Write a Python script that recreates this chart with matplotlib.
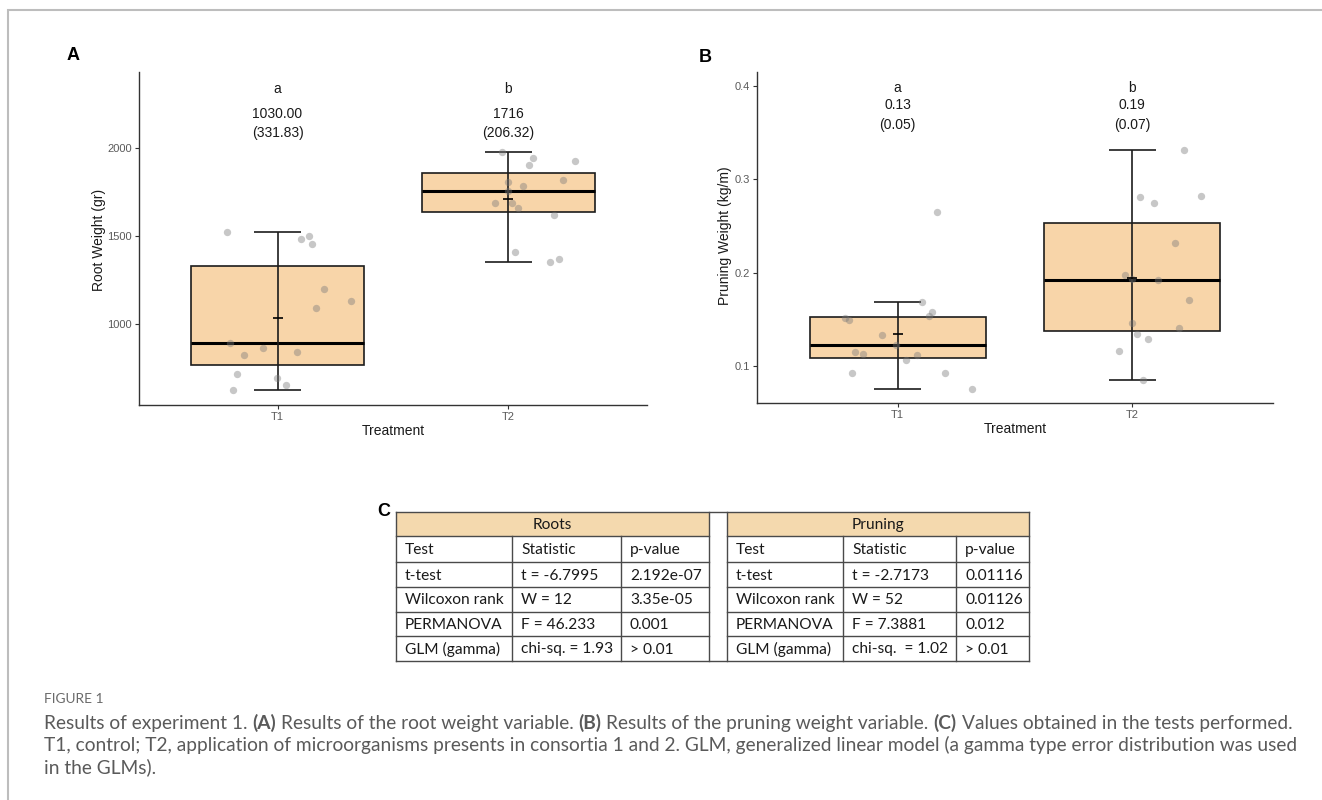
import numpy as np
import matplotlib
matplotlib.use("Agg")
import matplotlib.pyplot as plt
from matplotlib import cbook
from matplotlib.patches import Rectangle

W, H = 1322, 800

groups = ["T1", "T2"]

# root weight (gr), values
root_t1 = [1523, 1483, 1502, 1455, 1200, 1091, 1131, 894, 824, 862, 843, 714, 695, 655, 625]
root_t1_dx = [-0.221, 0.103, 0.138, 0.151, 0.203, 0.168, 0.318, -0.207, -0.144, -0.065,
              0.085, -0.177, -0.004, 0.038, -0.191]
root_t2 = [1976, 1945, 1905, 1926, 1807, 1786, 1816, 1688, 1688, 1658, 1618, 1409, 1350, 1369, 1757]
root_t2_dx = [-0.030, 0.106, 0.089, 0.290, -0.003, 0.062, 0.237, -0.060, 0.017, 0.043,
              0.198, 0.030, 0.180, 0.217, -0.004]

# pruning weight (kg/m)
prune_t1 = [0.1517, 0.1489, 0.1335, 0.1153, 0.1132, 0.1221, 0.1064, 0.1115, 0.1688, 0.1581,
            0.1532, 0.2649, 0.0922, 0.0925, 0.0757]
prune_t1_dx = [-0.226, -0.207, -0.066, -0.181, -0.147, -0.007, 0.036, 0.083, 0.102, 0.146,
               0.135, 0.168, -0.196, 0.203, 0.317]
prune_t2 = [0.3309, 0.2813, 0.2745, 0.2820, 0.2320, 0.1978, 0.1921, 0.1707, 0.1464, 0.1410,
            0.1343, 0.1286, 0.1161, 0.0853, 0.1935]
prune_t2_dx = [0.221, 0.032, 0.091, 0.295, 0.183, -0.029, 0.111, 0.241, -0.002, 0.201,
               0.020, 0.065, -0.058, 0.044, 0.0]

root_letters = ["a", "b"]
root_means = ["1030.00", "1716"]
root_sds = ["(331.83)", "(206.32)"]
prune_letters = ["a", "b"]
prune_means = ["0.13", "0.19"]
prune_sds = ["(0.05)", "(0.07)"]

table_titles = ["Roots", "Pruning"]
table_header = ["Test", "Statistic", "p-value"]
table_tests = ["t-test", "Wilcoxon rank", "PERMANOVA", "GLM (gamma)"]
roots_stat = ["t = -6.7995", "W = 12", "F = 46.233", "chi-sq. = 1.93"]
roots_p = ["2.192e-07", "3.35e-05", "0.001", "> 0.01"]
prune_stat = ["t = -2.7173", "W = 52", "F = 7.3881", "chi-sq.  = 1.02"]
prune_p = ["0.01116", "0.01126", "0.012", "> 0.01"]

caption_head = "FIGURE 1"
caption_line1 = [("Results of experiment 1.", "normal"), ("(A)", "bold"),
                 ("Results of the root weight variable.", "normal"), ("(B)", "bold"),
                 ("Results of the pruning weight variable.", "normal"), ("(C)", "bold"),
                 ("Values obtained in the tests performed.", "normal")]
caption_line2 = ("T1, control; T2, application of microorganisms presents in consortia 1 and 2. "
                 "GLM, generalized linear model (a gamma type error distribution was used")
caption_line3 = "in the GLMs)."

BOX = "#F8D5A9"
EDGE = "#1c1c1c"
PLOT_FONT = "Liberation Sans"
TAB_FONT = "Lato"
CAP_FONT = "Lato"

plt.rcParams["font.family"] = [PLOT_FONT, "DejaVu Sans"]

fig = plt.figure(figsize=(W / 100, H / 100), dpi=100)
ov = fig.add_axes([0, 0, 1, 1], zorder=-1)
ov.set_xlim(0, W)
ov.set_ylim(H, 0)
ov.axis("off")


def px_axes(left, top, right, bottom):
    return fig.add_axes([left / W, 1 - bottom / H, (right - left) / W, (bottom - top) / H])


def draw_panel(ax, samples, offsets, ylim, yticks, letters, means, sds, label_y):
    pos = np.arange(1, len(samples) + 1)
    stats = cbook.boxplot_stats(samples, whis=1.5)
    art = ax.bxp(stats, positions=pos, widths=0.75, showfliers=False, showcaps=False,
                 patch_artist=True,
                 boxprops=dict(facecolor=BOX, edgecolor=EDGE, linewidth=1.2),
                 medianprops=dict(color="black", linewidth=2.2),
                 whiskerprops=dict(linewidth=0))
    for b in art["boxes"]:
        b.set_zorder(2)
    for m in art["medians"]:
        m.set_zorder(3)
    for p, s in zip(pos, stats):
        ax.vlines(p, s["whislo"], s["whishi"], color=EDGE, linewidth=1.2, zorder=3)
        ax.hlines([s["whislo"], s["whishi"]], p - 0.1, p + 0.1, color=EDGE, linewidth=1.2, zorder=3)
    for p, vals, dx in zip(pos, samples, offsets):
        ax.scatter(p + np.array(dx), vals, s=28, color="#7a7a7a", alpha=0.42,
                   linewidths=0, zorder=4)
        ax.plot(p, np.mean(vals), marker="_", markersize=7, markeredgewidth=1.2,
                color="black", zorder=5)
    for p, l, m, s in zip(pos, letters, means, sds):
        for txt, yy in zip((l, m, s), label_y):
            ax.text(p, yy, txt, ha="center", va="center", fontsize=10, color="#1a1a1a")
    ax.set_xlim(0.4, 2.6)
    ax.set_ylim(*ylim)
    ax.set_xticks(pos)
    ax.set_xticklabels(groups)
    ax.set_yticks(yticks)
    for sp in ("top", "right"):
        ax.spines[sp].set_visible(False)
    for sp in ("left", "bottom"):
        ax.spines[sp].set_color("#333333")
        ax.spines[sp].set_linewidth(1.0)
    ax.tick_params(length=3, width=0.8, color="#333333", labelsize=8,
                   labelcolor="#5a5a5a", pad=2)


axA = px_axes(139, 72, 647, 405)
draw_panel(axA, [root_t1, root_t2], [root_t1_dx, root_t2_dx], (540, 2432),
           [1000, 1500, 2000], root_letters, root_means, root_sds, (2335, 2193, 2085))

axB = px_axes(757, 72, 1273, 403)
draw_panel(axB, [prune_t1, prune_t2], [prune_t1_dx, prune_t2_dx], (0.0604, 0.4147),
           [0.1, 0.2, 0.3, 0.4], prune_letters, prune_means, prune_sds, (0.398, 0.379, 0.358))

# axis titles
ov.text(99, 240, "Root Weight (gr)", rotation=90, ha="center", va="center", fontsize=10,
        color="#1a1a1a")
ov.text(725, 236, "Pruning Weight (kg/m)", rotation=90, ha="center", va="center", fontsize=10,
        color="#1a1a1a")
ov.text(393, 431, "Treatment", ha="center", va="center", fontsize=10, color="#1a1a1a")
ov.text(1015, 429, "Treatment", ha="center", va="center", fontsize=10, color="#1a1a1a")

# panel letters
for lab, x, y in (("A", 73, 56), ("B", 705, 58), ("C", 384, 511)):
    ov.text(x, y, lab, ha="center", va="center", fontsize=13, fontweight="bold", color="black")

# frame
ov.plot([8, 8, W], [H, 10, 10], color="#bdbdbd", linewidth=1.5, solid_joinstyle="miter")

# ---- table C ----
renderer = fig.canvas.get_renderer()


def text_width(text, size, family, weight="normal"):
    t = ov.text(0, 0, text, fontsize=size, family=family, fontweight=weight)
    w = t.get_window_extent(renderer=renderer).width
    t.remove()
    return w


tab_fs = 10 * 99 / text_width("Wilcoxon rank", 10, TAB_FONT)
rows = [512, 536, 562, 587, 612, 636, 661]
parts = [(396, [512, 621], 709, table_titles[0], roots_stat, roots_p),
         (727, [843, 956], 1029, table_titles[1], prune_stat, prune_p)]
LC = "#4a4a4a"
for left, inner, right, title, stat, pv in parts:
    ov.add_patch(Rectangle((left, rows[0]), right - left, rows[1] - rows[0],
                           facecolor="#F4D9AE", edgecolor="none"))
    ov.text((left + right) / 2, (rows[0] + rows[1]) / 2 + 1, title, ha="center", va="center",
            fontsize=tab_fs, family=TAB_FONT, color="#1a1a1a")
    for r in rows[1:-1]:
        ov.plot([left, right], [r, r], color=LC, linewidth=1)
    for c in inner:
        ov.plot([c, c], [rows[1], rows[-1]], color=LC, linewidth=1)
    cols = [left] + inner
    body = [table_header] + [list(t) for t in zip(table_tests, stat, pv)]
    for i, rowtxt in enumerate(body):
        yc = (rows[i + 1] + rows[i + 2]) / 2 + 1
        for c, txt in zip(cols, rowtxt):
            ov.text(c + 9, yc, txt, ha="left", va="center", fontsize=tab_fs,
                    family=TAB_FONT, color="#1a1a1a")
for x in (396, 709, 727, 1029):
    ov.plot([x, x], [rows[0], rows[-1]], color=LC, linewidth=1)
for y in (rows[0], rows[-1]):
    ov.plot([396, 1029], [y, y], color=LC, linewidth=1)

# ---- caption ----
CAP_COL = "#5a5a5a"
cap_fs = 10 * 1260 / text_width(caption_line2, 10, CAP_FONT)
ov.text(44, 699, caption_head, ha="left", va="center", fontsize=cap_fs * 0.72,
        family=CAP_FONT, color="#6a6a6a")
sp_w = text_width("a a", cap_fs, CAP_FONT) - text_width("aa", cap_fs, CAP_FONT)
x = 44
for txt, wt in caption_line1:
    t = ov.text(x, 723, txt, ha="left", va="center", fontsize=cap_fs, family=CAP_FONT,
                fontweight=wt, color=CAP_COL)
    x += t.get_window_extent(renderer=renderer).width + sp_w
ov.text(44, 745, caption_line2, ha="left", va="center", fontsize=cap_fs, family=CAP_FONT,
        color=CAP_COL)
ov.text(44, 767, caption_line3, ha="left", va="center", fontsize=cap_fs, family=CAP_FONT,
        color=CAP_COL)

fig.savefig("out.png", dpi=100)
